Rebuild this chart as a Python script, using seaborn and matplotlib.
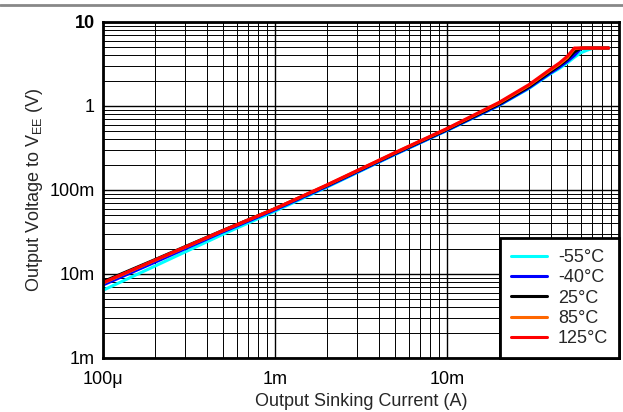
import matplotlib
matplotlib.use("Agg")
import matplotlib.pyplot as plt
from matplotlib.lines import Line2D
from matplotlib.ticker import FixedLocator, FixedFormatter, LogLocator, NullFormatter
import numpy as np
import pandas as pd
import seaborn as sns

# Output sinking current (A)
current = [1e-4, 2e-4, 5e-4, 1e-3, 2e-3, 5e-3, 1e-2, 2e-2, 3e-2, 4e-2,
           4.5e-2, 5e-2, 5.5e-2, 6e-2, 6.5e-2, 7e-2, 8.7e-2]

# Output voltage to VEE (V) at each temperature
v_m55 = [0.0064, 0.0124, 0.0298, 0.056, 0.108, 0.265, 0.51, 1.01, 1.62, 2.42,
         2.8, 3.25, 3.8, 4.3, 4.6, 4.85, 4.9]
v_m40 = [0.0074, 0.0138, 0.0318, 0.058, 0.110, 0.268, 0.515, 1.02, 1.65, 2.48,
         2.9, 3.4, 4.0, 4.85, 4.9, 4.9, 4.9]
v_25 = [0.0081, 0.0148, 0.0332, 0.060, 0.113, 0.274, 0.525, 1.05, 1.70, 2.58,
        3.05, 3.6, 4.4, 4.9, 4.9, 4.9, 4.9]
v_85 = [0.0078, 0.0145, 0.0328, 0.060, 0.114, 0.278, 0.535, 1.08, 1.76, 2.68,
        3.15, 3.75, 4.8, 4.9, 4.9, 4.9, 4.9]
v_125 = [0.0079, 0.0146, 0.033, 0.060, 0.115, 0.28, 0.54, 1.10, 1.80, 2.75,
         3.25, 3.9, 4.9, 4.9, 4.9, 4.9, 4.9]

temps = ["-55°C", "-40°C", "25°C", "85°C", "125°C"]
colors = ["#00FFFF", "#0000FF", "#000000", "#FF6600", "#FF0000"]

x_ticks = [1e-4, 1e-3, 1e-2]
x_labels = ["100μ", "1m", "10m"]
y_ticks = [1e-3, 1e-2, 1e-1, 1, 10]
y_labels = ["1m", "10m", "100m", "1", "10"]

frames = []
for t, v in zip(temps, [v_m55, v_m40, v_25, v_85, v_125]):
    frames.append(pd.DataFrame({"current": current, "voltage": v, "temp": t}))
df = pd.concat(frames, ignore_index=True)

sns.set_style("white")
plt.rcParams["font.family"] = ["Liberation Sans", "DejaVu Sans"]

FS = 13

fig = plt.figure(figsize=(6.23, 4.12), dpi=100)
ax = fig.add_axes([103 / 623, 1 - 358 / 412, 516 / 623, 336 / 412])

sns.lineplot(data=df, x="current", y="voltage", hue="temp", hue_order=temps,
             palette=colors, estimator=None, sort=False, linewidth=2.2, ax=ax)

ax.set_xscale("log")
ax.set_yscale("log")
ax.set_xlim(1e-4, 1e-1)
ax.set_ylim(1e-3, 10)

ax.xaxis.set_major_locator(FixedLocator(x_ticks))
ax.xaxis.set_major_formatter(FixedFormatter(x_labels))
ax.yaxis.set_major_locator(FixedLocator(y_ticks))
ax.yaxis.set_major_formatter(FixedFormatter(y_labels))
ax.xaxis.set_minor_locator(LogLocator(base=10, subs=np.arange(2, 10), numticks=20))
ax.yaxis.set_minor_locator(LogLocator(base=10, subs=np.arange(2, 10), numticks=20))
ax.xaxis.set_minor_formatter(NullFormatter())
ax.yaxis.set_minor_formatter(NullFormatter())

ax.tick_params(which="both", length=0, labelsize=FS, colors="black")
ax.tick_params(axis="x", pad=9)
ax.tick_params(axis="y", pad=6)
ax.get_yticklabels()[-1].set_fontweight("bold")

ax.grid(which="major", color="black", linewidth=1.0)
ax.grid(which="minor", color="black", linewidth=0.7)
ax.set_axisbelow(True)

for s in ax.spines.values():
    s.set_visible(True)
    s.set_color("black")
    s.set_linewidth(2.0)

ax.set_xlabel("Output Sinking Current (A)", fontsize=FS, labelpad=4)
ax.set_ylabel("Output Voltage to V$_{\\mathregular{EE}}$ (V)", fontsize=FS, labelpad=3)

leg = ax.legend(loc="lower right", fontsize=FS, handlelength=2.0, handletextpad=0.6,
                borderaxespad=0.0, fancybox=False, framealpha=1, edgecolor="black",
                labelspacing=0.18, borderpad=0.6, title=None)
leg.get_frame().set_linewidth(2.0)
for h in leg.get_lines():
    h.set_linewidth(2.2)

fig.add_artist(Line2D([0, 1], [1 - 5 / 412, 1 - 5 / 412], color="#888888",
                      linewidth=2.0, transform=fig.transFigure))

fig.savefig("out.png", dpi=100)
